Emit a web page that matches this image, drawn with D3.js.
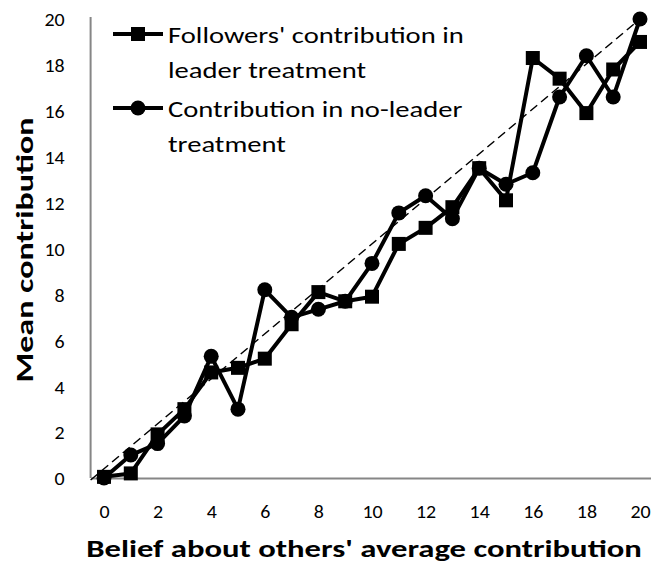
<!DOCTYPE html>
<html>
<head>
<meta charset="utf-8">
<script src="https://cdn.jsdelivr.net/npm/d3@7"></script>
<style>
  html, body { margin: 0; padding: 0; background: #fff; }
  svg { display: block; font-family: Carlito, Calibri, Lato, sans-serif; }
</style>
</head>
<body>
<svg id="chart" width="651" height="562"></svg>
<script>
// ---- data ----
const beliefs = d3.range(0, 21); // 0..20
const followersLeader = [0.05, 0.2, 1.9, 3.0, 4.6, 4.8, 5.2, 6.7, 8.1, 7.7, 7.9, 10.2, 10.9, 11.8, 13.5, 12.1, 18.3, 17.4, 15.9, 17.8, 19.0];
const noLeader =        [0.0, 1.0, 1.5, 2.7, 5.3, 3.0, 8.2, 7.0, 7.35, 7.7, 9.35, 11.55, 12.3, 11.3, 13.5, 12.8, 13.3, 16.6, 18.4, 16.6, 20.0];
const xTicks = [0, 2, 4, 6, 8, 10, 12, 14, 16, 18, 20];
const yTicks = [0, 2, 4, 6, 8, 10, 12, 14, 16, 18, 20];
const diagonal = [0, 20];
const seriesNames = ["Followers' contribution in|leader treatment", "Contribution in no-leader|treatment"];
const xTitle = "Belief about others' average contribution";
const yTitle = "Mean contribution";

// horizontal stretch helper (reference font is wider than available fonts)
function stretch(sel, sx) {
  sel.each(function () {
    const w = this.getComputedTextLength();
    d3.select(this).attr("textLength", w * sx).attr("lengthAdjust", "spacingAndGlyphs");
  });
}

// ---- layout ----
const svg = d3.select("#chart");
const x = d3.scaleLinear().domain([-0.5, 20.5]).range([90.6, 653.4]);
const y = d3.scaleLinear().domain([0, 20]).range([478, 19]);
const axisColor = "#868686";

// x axis
const gx = svg.append("g").attr("transform", `translate(0,${y(0)})`)
  .call(d3.axisBottom(x).tickValues(xTicks).tickSize(0).tickSizeOuter(0).tickPadding(0));
gx.select(".domain").attr("stroke", axisColor).attr("stroke-width", 2);
gx.selectAll(".tick text").attr("font-size", 19).attr("fill", "#000")
  .attr("font-family", "Carlito, Calibri, Lato, sans-serif").attr("dy", 0).attr("y", 40)
  .call(stretch, 1.05);

// y axis
const gy = svg.append("g").attr("transform", `translate(${x(-0.5)},0)`)
  .call(d3.axisLeft(y).tickValues(yTicks).tickSize(0).tickSizeOuter(0).tickPadding(26));
gy.select(".domain").attr("stroke", axisColor).attr("stroke-width", 2)
  .attr("d", `M0,${y(0)}V${y(20) - 2}`);
gy.selectAll(".tick text").attr("font-size", 19).attr("fill", "#000")
  .attr("font-family", "Carlito, Calibri, Lato, sans-serif").attr("dy", "0.36em")
  .call(stretch, 1.05);

// dashed diagonal
svg.append("line")
  .attr("x1", x(-0.5)).attr("y1", y(diagonal[0]) + 2)
  .attr("x2", x(diagonal[1])).attr("y2", y(diagonal[1]))
  .attr("stroke", "#000").attr("stroke-width", 1.5).attr("stroke-dasharray", "9,5");

const line = d3.line().x((d, i) => x(beliefs[i])).y(d => y(d));

// followers series (squares)
svg.append("path").datum(followersLeader).attr("d", line)
  .attr("fill", "none").attr("stroke", "#000").attr("stroke-width", 4).attr("stroke-linejoin", "round");
svg.append("g").selectAll("rect").data(followersLeader).join("rect")
  .attr("x", (d, i) => x(beliefs[i]) - 7).attr("y", d => y(d) - 7)
  .attr("width", 14).attr("height", 14).attr("fill", "#000");

// no-leader series (circles)
svg.append("path").datum(noLeader).attr("d", line)
  .attr("fill", "none").attr("stroke", "#000").attr("stroke-width", 4).attr("stroke-linejoin", "round");
svg.append("g").selectAll("circle").data(noLeader).join("circle")
  .attr("cx", (d, i) => x(beliefs[i])).attr("cy", d => y(d))
  .attr("r", 7.5).attr("fill", "#000");

// legend
const legend = svg.append("g");
const legY = [34, 108];
seriesNames.forEach((name, k) => {
  const g = legend.append("g").attr("transform", `translate(0,${legY[k]})`);
  g.append("line").attr("x1", 113).attr("x2", 163).attr("y1", 0).attr("y2", 0)
    .attr("stroke", "#000").attr("stroke-width", 4);
  if (k === 0) g.append("rect").attr("x", 131).attr("y", -7).attr("width", 14).attr("height", 14).attr("fill", "#000");
  else g.append("circle").attr("cx", 138).attr("cy", 0).attr("r", 7.5).attr("fill", "#000");
  const lines = name.split("|");
  lines.forEach((t, j) => {
    g.append("text").attr("x", 168).attr("y", 9 + j * 34.5)
      .attr("font-size", 22).attr("fill", "#000").text(t)
      .call(stretch, 1.3);
  });
});

// axis titles
svg.append("text").attr("x", 364).attr("y", 557).attr("text-anchor", "middle")
  .attr("font-size", 24).attr("font-weight", "bold").attr("fill", "#000").text(xTitle)
  .call(stretch, 1.36);
svg.append("text").attr("transform", `translate(33,250) rotate(-90)`).attr("text-anchor", "middle")
  .attr("font-size", 25).attr("font-weight", "bold").attr("fill", "#000").text(yTitle)
  .call(stretch, 1.36);
</script>
</body>
</html>
